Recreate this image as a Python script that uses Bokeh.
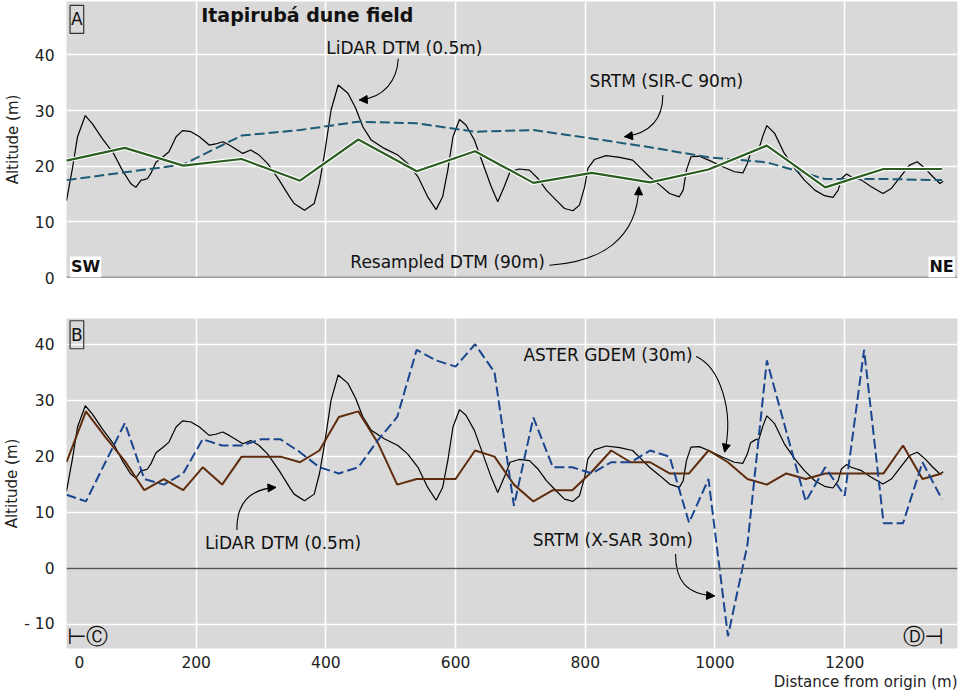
from bokeh.plotting import figure
from bokeh.layouts import column
from bokeh.models import Range1d, FixedTicker, Span, Label, Arrow, NormalHead, Title
from bokeh.embed import file_html
from bokeh.resources import INLINE

# ---------------- data ----------------
lidar_x = [0, 9, 17, 29, 40, 55, 73, 86, 99, 107, 115, 120, 125, 130, 138, 148, 158, 169, 179, 192,
           205, 220, 230, 241, 251, 272, 284, 297, 310, 328, 344, 351, 367, 382, 390, 398, 408, 419, 434, 446,
           457, 470, 490, 511, 526, 542, 557, 570, 580, 588, 596, 606, 616, 629, 642, 655, 665, 675, 684, 698,
           714, 727, 740, 755, 768, 781, 791, 799, 804, 814, 832, 853, 873, 886, 899, 915, 930, 945, 951, 956,
           963, 976, 992, 1012, 1030, 1043, 1050, 1055, 1062, 1068, 1074, 1080, 1092, 1107, 1123, 1138, 1154, 1169, 1182, 1190,
           1195, 1203, 1210, 1226, 1241, 1259, 1272, 1288, 1300, 1312, 1324, 1336, 1347, 1352]
lidar_alt = [13.8, 19.5, 25.3, 29.1, 27.6, 25.0, 22.2, 19.3, 16.9, 16.2, 17.5, 17.6, 17.8, 18.7, 20.7, 21.6, 22.6, 25.3, 26.4, 26.2,
             25.3, 23.8, 24.0, 24.4, 23.8, 22.3, 22.9, 22.0, 20.5, 17.5, 14.5, 13.3, 12.1, 13.3, 16.9, 22.3, 30.1, 34.6, 33.1, 30.4,
             27.1, 24.7, 23.2, 22.0, 20.5, 18.1, 14.5, 12.2, 14.5, 19.3, 25.3, 28.4, 27.4, 24.7, 20.5, 16.3, 13.6, 16.3, 19.0, 19.5,
             19.3, 17.8, 15.7, 13.9, 12.4, 12.0, 13.0, 16.3, 19.6, 21.2, 21.9, 21.6, 21.1, 19.6, 18.1, 16.6, 15.1, 14.5, 15.7, 19.3,
             21.7, 21.8, 21.0, 19.9, 19.0, 18.8, 20.5, 22.5, 23.0, 23.2, 25.5, 27.3, 25.9, 22.3, 19.6, 17.5, 15.7, 14.7, 14.4, 15.7,
             17.8, 18.6, 18.1, 17.5, 16.3, 15.1, 16.0, 18.4, 20.2, 20.8, 19.6, 18.1, 16.9, 17.3]

x90 = [0, 90, 180, 270, 360, 450, 540, 630, 720, 810, 900, 990, 1080, 1170, 1260, 1350]
resampled_dtm_90 = [21.0, 23.3, 20.1, 21.3, 17.4, 24.8, 19.1, 22.7, 17.0, 18.8, 17.1, 19.4, 23.7, 16.2, 19.5, 19.5]
srtm_sirc_90 = [17.5, 18.9, 20.3, 25.5, 26.5, 28.0, 27.7, 26.2, 26.5, 25.0, 23.4, 21.6, 20.7, 17.7, 17.7, 17.5]

x30 = [0, 30, 60, 90, 120, 150, 180, 210, 240, 270, 300, 330, 360, 390, 420, 450, 480, 510, 540, 570,
       600, 630, 660, 690, 720, 750, 780, 810, 840, 870, 900, 930, 960, 990, 1020, 1050, 1080, 1110, 1140, 1170,
       1200, 1230, 1260, 1290, 1320, 1350]
aster_gdem_30 = [19.0, 28.1, 23.5, 19.2, 14.0, 16.0, 14.0, 18.1, 15.0, 20.0, 20.0, 20.0, 19.0, 21.1, 27.1, 28.1, 22.5, 15.0, 16.0, 16.0,
                 16.0, 21.1, 20.0, 15.0, 12.0, 14.0, 14.0, 17.3, 21.1, 19.0, 19.0, 17.0, 17.0, 21.1, 19.0, 16.0, 15.0, 17.0, 16.0, 17.0,
                 17.0, 17.0, 17.0, 22.0, 16.0, 17.0]
srtm_xsar_30 = [13.2, 12.0, 19.0, 26.0, 16.0, 15.0, 17.0, 23.1, 22.0, 22.0, 23.1, 23.1, 20.8, 18.1, 17.0, 18.1, 22.9, 27.1, 39.1, 37.2,
                36.1, 40.1, 35.1, 11.2, 27.0, 18.1, 18.1, 17.0, 19.0, 19.0, 21.1, 20.0, 8.2, 16.0, -12.1, 4.2, 37.2, 24.5, 12.0, 18.1,
                13.0, 39.1, 8.1, 8.1, 19.0, 12.4]

x_grid_ticks = [200, 400, 600, 800, 1000, 1200]
x_label_ticks = [20, 200, 400, 600, 800, 1000, 1200]
x_label_text = {20: "0"}
y_ticks_a = [0, 10, 20, 30, 40]
y_ticks_b = [-10, 0, 10, 20, 30, 40]
y_label_text_b = {-10: "- 10"}

# ---------------- styling ----------------
FONT = "DejaVu Sans"
BG = "#d9d9d9"
C_LIDAR = "black"
C_SIRC = "#1d5a75"
C_RES = "#2b5e20"
C_ASTER = "#5e2c0c"
C_XSAR = "#1a4690"

x_range = Range1d(0, 1374)


def style(p, yticks, overrides, label_standoff):
    p.background_fill_color = BG
    p.border_fill_color = "white"
    p.outline_line_color = None
    p.xgrid.ticker = FixedTicker(ticks=x_grid_ticks)
    p.ygrid.ticker = FixedTicker(ticks=yticks)
    p.grid.grid_line_color = "white"
    p.grid.grid_line_width = 1.6
    p.yaxis.ticker = FixedTicker(ticks=yticks)
    p.yaxis.major_label_overrides = overrides
    p.yaxis.axis_label = "Altitude (m)"
    p.yaxis.axis_label_standoff = label_standoff
    p.yaxis.major_label_standoff = 6
    for ax in p.axis:
        ax.axis_line_color = None
        ax.major_tick_line_color = None
        ax.minor_tick_line_color = None
        ax.major_label_text_font = FONT
        ax.major_label_text_font_size = "15.5px"
        ax.major_label_text_color = "#222222"
        ax.axis_label_text_font = FONT
        ax.axis_label_text_font_size = "15px"
        ax.axis_label_text_font_style = "normal"
        ax.axis_label_text_color = "#222222"
    p.add_layout(Span(location=0, dimension="width", line_color="#555555", line_width=1.5))


def text(p, x, y, s, align="left", baseline="middle", size="17px", bold=False, bg=None, border=None, pad=0, color="#111111"):
    kw = {}
    if bg is not None:
        kw["background_fill_color"] = bg
    if border is not None:
        kw["border_line_color"] = border
        kw["border_line_width"] = 1.2
    p.add_layout(Label(x=x, y=y, text=s, text_align=align, text_baseline=baseline,
                       text_font=FONT, text_font_size=size, text_color=color,
                       text_font_style="bold" if bold else "normal", padding=pad, **kw))


def curved_arrow(p, x0, y0, cx0, cy0, cx1, cy1, x1, y1):
    p.bezier(x0=[x0], y0=[y0], x1=[x1], y1=[y1], cx0=[cx0], cy0=[cy0], cx1=[cx1], cy1=[cy1],
             line_color="black", line_width=1.1)
    p.add_layout(Arrow(end=NormalHead(size=8, fill_color="black", line_color="black", line_width=1),
                       x_start=cx1, y_start=cy1, x_end=x1, y_end=y1, line_alpha=0))


# ---------------- panel A ----------------
p1 = figure(frame_width=891, frame_height=276, x_range=x_range, y_range=Range1d(0, 49.6),
            output_backend="svg", toolbar_location=None,
            min_border_left=59, min_border_right=2, min_border_top=1, min_border_bottom=20)
style(p1, y_ticks_a, {}, 10)
p1.xaxis.visible = False

p1.line(lidar_x, lidar_alt, line_color=C_LIDAR, line_width=1.2)
p1.line(x90, srtm_sirc_90, line_color=C_SIRC, line_width=2, line_dash="10 4")
p1.line(x90, resampled_dtm_90, line_color="white", line_width=4.5)
p1.line(x90, resampled_dtm_90, line_color=C_RES, line_width=2.2)

text(p1, 5.5, 48.9, "A", baseline="top", size="17px", border="#333333", pad=(1, 4))
text(p1, 207.7, 47.2, "Itapirubá dune field", size="19px", bold=True)
text(p1, 400.5, 41.2, "LiDAR DTM (0.5m)")
curved_arrow(p1, 511.6, 39.3, 510, 35.5, 490, 32.2, 451.5, 31.9)
text(p1, 806.5, 35.3, "SRTM (SIR-C 90m)")
curved_arrow(p1, 919.6, 32.8, 919.6, 28.3, 899.4, 25.9, 860.5, 25.3)
text(p1, 437.7, 2.8, "Resampled DTM (90m)")
curved_arrow(p1, 744.8, 2.2, 822, 2.8, 880.5, 6.7, 882.6, 16.3)
text(p1, 5.5, 1.9, "SW", size="16px", bold=True, bg="white", pad=1)
text(p1, 1369.8, 1.9, "NE", align="right", size="16px", bold=True, bg="white", pad=1)

# ---------------- panel B ----------------
p2 = figure(frame_width=891, frame_height=330, x_range=x_range, y_range=Range1d(-14.3, 44.7),
            output_backend="svg", toolbar_location=None,
            min_border_left=59, min_border_right=2, min_border_top=21, min_border_bottom=44)
style(p2, y_ticks_b, y_label_text_b, 0)
p2.xaxis.ticker = FixedTicker(ticks=x_label_ticks)
p2.xaxis.major_label_overrides = x_label_text
p2.xaxis.major_label_standoff = 1
p2.add_layout(Title(text="Distance from origin (m)", align="right", text_font=FONT,
                    text_font_size="15px", text_font_style="normal", text_color="#222222",
                    standoff=0, offset=0), "below")

p2.line(lidar_x, lidar_alt, line_color=C_LIDAR, line_width=1.2)
p2.line(x30, aster_gdem_30, line_color=C_ASTER, line_width=2)
p2.line(x30, srtm_xsar_30, line_color=C_XSAR, line_width=2, line_dash="10 4")

text(p2, 5.5, 44.3, "B", baseline="top", size="17px", border="#333333", pad=(1, 4))
text(p2, 704.6, 38.1, "ASTER GDEM (30m)")
curved_arrow(p2, 971.1, 37.9, 1007, 36.0, 1030, 28.3, 1014.8, 20.8)
text(p2, 213.4, 4.55, "LiDAR DTM (0.5m)")
curved_arrow(p2, 262.8, 6.9, 262.2, 11.5, 281.8, 14.2, 323, 14.5)
text(p2, 719, 5.1, "SRTM (X-SAR 30m)")
curved_arrow(p2, 939.2, 2.6, 939.2, -2.2, 955.7, -4.6, 999.4, -4.9)
text(p2, 1, -12.1, "⊢Ⓒ", size="22px")
text(p2, 1352.8, -12.1, "Ⓓ⊣", align="right", size="22px")

layout = column(p1, p2)
open("out.html", "w").write(file_html(layout, INLINE))
